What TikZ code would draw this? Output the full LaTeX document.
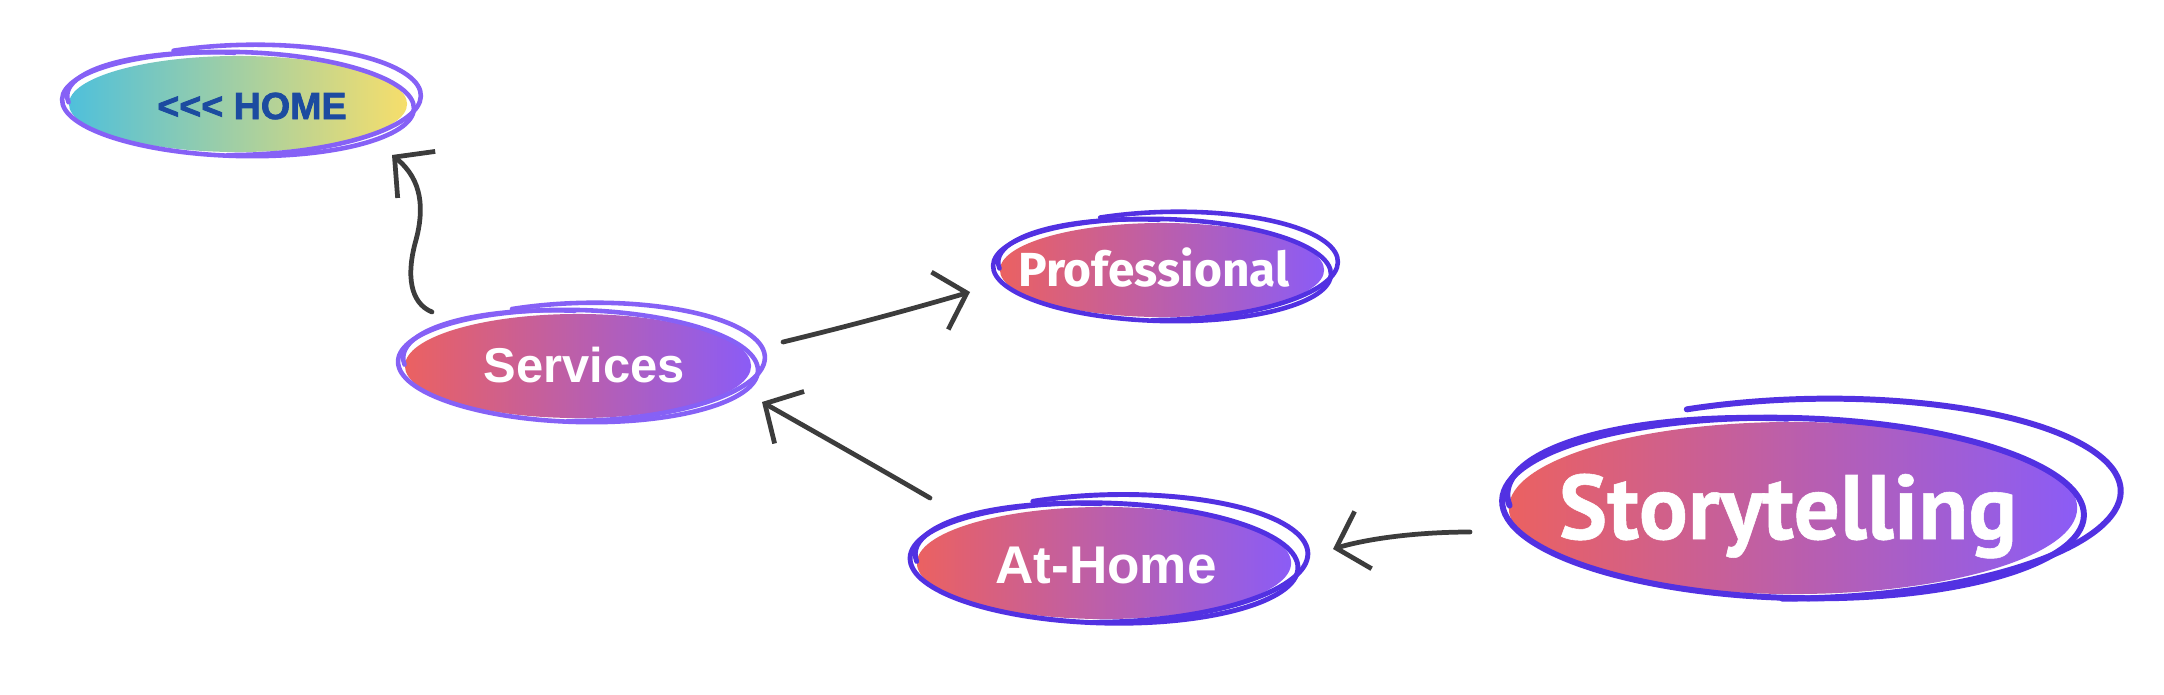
\documentclass[tikz,border=0pt]{standalone}
\usepackage{fontspec}
\usetikzlibrary{arrows.meta,shapes.geometric,calc}
\newfontfamily\lib{Liberation Sans}
\newfontfamily\libheavy{Liberation Sans}[FakeBold=2]
\newfontfamily\fira{Fira Sans}
\newfontfamily\pts{PT Sans}[FakeBold=0.6]
\definecolor{grL}{HTML}{EB6161}
\definecolor{grR}{HTML}{8B5CF6}
\definecolor{hmL}{HTML}{4FC0DB}
\definecolor{hmR}{HTML}{F6DE6B}
\definecolor{ringLight}{HTML}{8661F6}
\definecolor{ringDeep}{HTML}{5231E2}
\definecolor{homeTxt}{HTML}{1C4BA0}
\definecolor{arrCol}{HTML}{3C3C3C}
\tikzset{
  blob/.style={ellipse, inner sep=0pt, draw=none},
  grad/.style={left color=grL, right color=grR},
  lbl/.style={anchor=base, inner sep=0pt, text=white},
  arr/.style={draw=arrCol, line width=1.35pt, line cap=round,
    -{Straight Barb[length=8pt, width=17pt, line width=1.35pt]}},
}
% #1 node, #2 rx, #3 ry, #4 colour, #5 line width, #6 extra size of outer loop
\newcommand\scribble[6]{%
  \begin{scope}[shift={(#1.center)}, draw=#4, line width=#5, line cap=round]
    \draw[rotate=-1.5] (0,0) ellipse [x radius=#2+7, y radius=#3+4];
    \draw[rotate=1.5] ({(#2+10+#6)*cos(-112)+4+#6/2},{(#3+7+#6/3)*sin(-112)-4-#6/4})
      arc[start angle=-112, end angle=95, x radius=#2+10+#6, y radius=#3+7+#6/3];
    \draw[rotate=-3] ({(#2+2)*cos(172)},{(#3+3)*sin(172)})
      arc[start angle=172, end angle=268, x radius=#2+2, y radius=#3+3];
  \end{scope}}
\begin{document}
\begin{tikzpicture}[x=0.01cm, y=-0.01cm]
\useasboundingbox (0,0) rectangle (2164,694);
\fill[white] (0,0) rectangle (2164,694);

% ellipses
\node[blob, minimum width=3.38cm, minimum height=0.96cm, left color=hmL, right color=hmR] (home) at (238,104) {};
\node[blob, grad, minimum width=3.46cm, minimum height=1.04cm] (services) at (578,366) {};
\node[blob, grad, minimum width=3.24cm, minimum height=0.94cm] (prof) at (1162,270) {};
\node[blob, grad, minimum width=3.74cm, minimum height=1.12cm] (athome) at (1104,563) {};
\node[blob, grad, minimum width=5.68cm, minimum height=1.72cm] (story) at (1793,508) {};

% hand-drawn rings
\scribble{home}{169}{48}{ringLight}{1.3pt}{0}
\scribble{services}{173}{52}{ringLight}{1.3pt}{0}
\scribble{prof}{162}{47}{ringDeep}{1.3pt}{0}
\scribble{athome}{187}{56}{ringDeep}{1.4pt}{2}
\scribble{story}{284}{86}{ringDeep}{1.7pt}{20}

% labels
\node[lbl, text=homeTxt, font=\libheavy\bfseries\fontsize{10.7}{12}\selectfont] (homet) at (252,119) {<<< HOME};
\node[lbl, font=\lib\bfseries\fontsize{13.9}{16}\selectfont] (servicest) at (584,382) {Services};
\node[lbl, font=\fira\bfseries\fontsize{13.6}{16}\selectfont] (proft) at (1154,286) {Professional};
\node[lbl, font=\lib\bfseries\fontsize{15.1}{18}\selectfont] (athomet) at (1106,583) {At-Home};
\node[lbl, font=\pts\bfseries\fontsize{26}{30}\selectfont] (storyt) at (1788,539) {Storytelling};

% connectors
\draw[arr] ($(services)+(-146,-54)$) .. controls (410,303) and (406,275) .. (416,240)
  .. controls (424,210) and (423,180) .. ($(home)+(154,51)$);
\draw[arr] ($(services)+(205,-24)$) .. controls (845,327) and (905,311) .. ($(prof)+(-192,22)$);
\draw[arr] ($(athome)+(-174,-65)$) .. controls (875,466) and (815,432) .. ($(services)+(184,36)$);
\draw[arr] ($(story)+(-323,24)$) .. controls (1420,532) and (1370,538) .. ($(athome)+(229,-14)$);
\end{tikzpicture}
\end{document}
